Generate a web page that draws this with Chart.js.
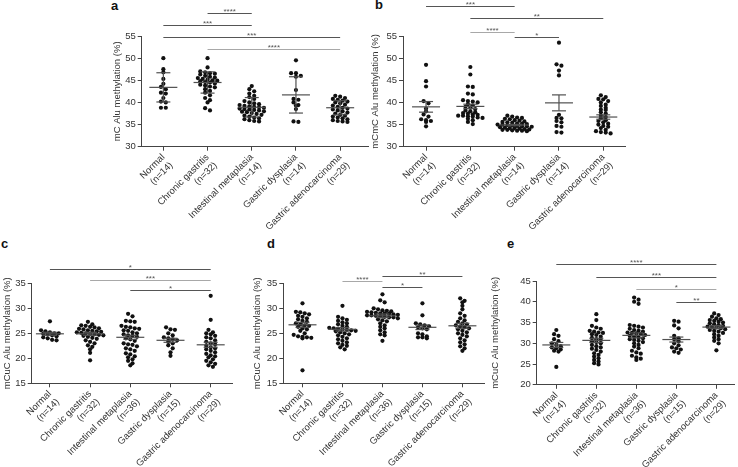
<!DOCTYPE html>
<html>
<head>
<meta charset="utf-8">
<script src="https://cdn.jsdelivr.net/npm/chart.js@4/dist/chart.umd.min.js"></script>
<style>
  body { margin: 0; background: #fff; }
  #fig { position: relative; width: 738px; height: 467px; overflow: hidden; }
  .tag { position: absolute; font: bold 13px "Liberation Sans", Arial, sans-serif; line-height: 13px; color: #111; }
</style>
</head>
<body>
<div id="fig">
  <div class="tag" style="left:111px;top:-1px">a</div>
  <div class="tag" style="left:375px;top:-2px">b</div>
  <div class="tag" style="left:1px;top:237px">c</div>
  <div class="tag" style="left:267px;top:237px">d</div>
  <div class="tag" style="left:507px;top:237px">e</div>
</div>
<script>
// category labels
const catsTop = [["Normal", "(n=14)"], ["Chronic gastritis", "(n=32)"], ["Intestinal metaplasia", "(n=14)"], ["Gastric dysplasia", "(n=14)"], ["Gastric adenocarcinoma", "(n=29)"]];
const catsBottom = [["Normal", "(n=14)"], ["Chronic gastritis", "(n=32)"], ["Intestinal metaplasia", "(n=36)"], ["Gastric dysplasia", "(n=15)"], ["Gastric adenocarcinoma", "(n=29)"]];

// a - mC
const aNormal = [50.0, 47.5, 46.8, 45.3, 44.2, 43.5, 43.0, 42.2, 42.0, 41.0, 40.2, 40.0, 38.8, 38.8];
const aChronic = [50.0, 47.9, 47.0, 46.8, 46.6, 46.5, 46.3, 46.0, 45.8, 45.6, 45.5, 45.3, 45.2, 45.0, 44.9, 44.8, 44.6, 44.5, 44.3, 44.0, 43.8, 43.6, 43.4, 43.0, 42.6, 42.2, 41.6, 41.0, 40.5, 40.0, 38.7, 38.2];
const aMetaplasia = [43.7, 43.0, 42.5, 42.0, 41.5, 41.2, 40.8, 40.3, 40.0, 39.8, 39.6, 39.4, 39.2, 39.0, 38.9, 38.8, 38.6, 38.5, 38.4, 38.2, 38.0, 37.8, 37.6, 37.4, 37.2, 37.0, 36.8, 36.6, 36.4, 36.2, 36.0, 35.8, 35.7, 37.9, 38.3, 39.1];
const aDysplasia = [49.5, 46.6, 46.6, 46.0, 45.8, 42.8, 40.8, 40.6, 40.0, 39.4, 39.3, 38.5, 35.7, 35.6];
const aCarcinoma = [41.5, 41.3, 41.0, 40.8, 40.6, 40.4, 40.2, 40.0, 39.8, 39.5, 39.3, 39.0, 38.8, 38.6, 38.4, 38.2, 38.0, 37.7, 37.5, 37.2, 37.0, 36.8, 36.6, 36.4, 36.2, 36.0, 35.8, 35.7, 35.6];
const aMean = [43.4, 44.5, 38.9, 41.7, 38.8];
const aErr = [3.3, 2.4, 2.2, 4.1, 1.6];
const aSig = [[2, 3, "****"], [1, 3, "***"], [1, 5, "***"], [2, 5, "****"]];

// b - mCmC
const bNormal = [48.5, 44.8, 43.6, 40.3, 39.8, 38.6, 38.0, 37.3, 36.8, 36.2, 36.0, 35.8, 35.6, 34.6];
const bChronic = [48.0, 46.3, 43.6, 43.5, 42.0, 41.8, 40.5, 40.3, 40.2, 40.0, 39.6, 39.3, 39.0, 38.8, 38.5, 38.2, 38.0, 37.8, 37.6, 37.5, 37.3, 37.2, 37.0, 37.0, 36.9, 36.8, 36.6, 36.5, 36.3, 36.0, 35.6, 35.1];
const bMetaplasia = [37.0, 36.8, 36.6, 36.5, 36.3, 36.2, 36.0, 35.9, 35.7, 35.6, 35.5, 35.4, 35.3, 35.2, 35.1, 35.0, 34.9, 34.8, 34.7, 34.6, 34.5, 34.4, 34.3, 34.2, 34.1, 34.0, 33.9, 33.8, 33.8, 33.7, 33.6, 33.6, 33.5, 35.0, 34.6, 34.2];
const bDysplasia = [53.5, 48.6, 48.3, 47.2, 46.1, 37.2, 36.5, 36.4, 35.8, 35.5, 34.7, 34.5, 33.3, 33.2];
const bCarcinoma = [41.6, 41.2, 40.8, 40.7, 40.3, 40.0, 39.5, 39.2, 38.8, 38.4, 38.3, 37.8, 37.5, 37.0, 36.7, 36.4, 36.0, 35.8, 35.5, 35.2, 35.0, 34.7, 34.5, 34.2, 33.8, 33.5, 33.3, 33.2, 33.0];
const bMean = [39.0, 39.1, 34.9, 39.9, 36.7];
const bErr = [1.2, 0.5, 0.15, 1.8, 0.5];
const bSig = [[1, 3, "***"], [2, 5, "**"], [2, 3, "****"], [3, 4, "*"]];

// c - mCuC
const cNormal = [27.4, 25.6, 25.4, 25.2, 25.0, 25.0, 24.9, 24.8, 24.6, 24.4, 24.2, 24.0, 23.7, 23.6];
const cChronic = [27.3, 26.8, 26.6, 26.5, 26.3, 26.2, 26.0, 25.9, 25.8, 25.6, 25.5, 25.4, 25.3, 25.2, 25.1, 25.0, 24.9, 24.8, 24.7, 24.6, 24.5, 24.3, 24.1, 23.9, 23.6, 23.3, 23.0, 22.6, 22.3, 21.8, 21.1, 19.6];
const cMetaplasia = [28.9, 28.4, 27.5, 27.4, 27.3, 26.5, 26.3, 26.2, 26.0, 25.9, 25.6, 25.5, 25.2, 25.0, 24.8, 24.6, 24.5, 24.3, 24.0, 23.8, 23.5, 23.0, 22.8, 22.7, 22.4, 22.0, 21.8, 21.5, 21.0, 20.8, 20.4, 20.2, 19.8, 19.5, 19.0, 18.6];
const cDysplasia = [26.2, 25.8, 25.7, 25.0, 24.6, 24.2, 24.0, 23.8, 23.6, 23.3, 23.0, 22.6, 22.0, 21.2, 20.5];
const cCarcinoma = [32.5, 27.7, 25.7, 25.2, 25.0, 24.8, 24.5, 24.2, 24.0, 23.6, 23.3, 23.0, 22.8, 22.5, 22.2, 22.0, 21.8, 21.5, 21.2, 20.9, 20.6, 20.4, 20.2, 19.8, 19.5, 19.2, 18.9, 18.6, 18.3];
const cMean = [24.9, 24.9, 24.2, 23.6, 22.7];
const cErr = [0.3, 0.3, 0.4, 0.4, 0.5];
const cSig = [[1, 5, "*"], [2, 5, "***"], [3, 5, "*"]];

// d - mCuC
const dNormal = [31.0, 29.3, 29.2, 29.0, 28.8, 28.5, 28.3, 28.0, 27.8, 27.5, 27.3, 27.0, 26.8, 26.6, 26.5, 26.3, 26.0, 25.8, 25.5, 25.0, 24.7, 24.4, 24.3, 24.2, 24.1, 24.0, 17.6];
const dChronic = [30.5, 28.3, 28.0, 27.7, 27.5, 27.2, 27.0, 26.8, 26.5, 26.3, 26.1, 26.0, 25.9, 25.8, 25.7, 25.6, 25.5, 25.4, 25.2, 25.0, 24.8, 24.6, 24.3, 24.0, 23.8, 23.5, 23.2, 23.0, 22.7, 22.5, 22.2, 21.8];
const dMetaplasia = [32.8, 31.6, 31.2, 30.0, 29.8, 29.6, 29.5, 29.4, 29.3, 29.2, 29.1, 29.0, 29.0, 28.9, 28.8, 28.7, 28.6, 28.6, 28.5, 28.4, 28.3, 28.2, 28.2, 28.0, 27.8, 27.6, 27.4, 27.0, 26.6, 26.3, 26.0, 25.6, 25.2, 24.8, 24.6, 23.5];
const dDysplasia = [31.0, 28.6, 27.0, 26.8, 26.6, 26.4, 26.2, 26.0, 25.8, 25.0, 24.8, 24.4, 24.2, 24.2, 24.0];
const dCarcinoma = [32.0, 31.5, 31.2, 30.5, 29.8, 29.0, 28.5, 28.0, 27.6, 27.3, 27.0, 26.8, 26.6, 26.4, 26.2, 26.0, 25.8, 25.5, 25.2, 25.0, 24.7, 24.4, 24.0, 23.6, 23.2, 22.8, 22.4, 22.0, 21.5];
const dMean = [26.7, 25.8, 28.5, 26.2, 26.5];
const dErr = [0.5, 0.35, 0.35, 0.45, 0.5];
const dSig = [[2, 3, "****"], [3, 5, "**"], [3, 4, "*"]];

// e - mCuC
const eNormal = [33.2, 32.2, 31.8, 31.0, 30.5, 30.0, 29.6, 29.3, 29.0, 28.8, 28.5, 28.2, 28.0, 24.3];
const eChronic = [37.0, 35.6, 34.2, 33.8, 33.5, 33.0, 32.8, 32.6, 32.5, 32.2, 32.0, 31.6, 31.3, 31.0, 30.8, 30.5, 30.3, 30.0, 29.6, 29.3, 29.0, 28.7, 28.4, 28.0, 27.6, 27.2, 26.8, 26.4, 26.0, 25.6, 25.2, 24.9];
const eMetaplasia = [41.0, 40.5, 40.0, 39.5, 34.4, 34.2, 34.0, 33.8, 33.5, 33.2, 33.0, 32.8, 32.6, 32.5, 32.4, 32.2, 32.0, 31.8, 31.6, 31.4, 31.2, 31.0, 30.8, 30.6, 30.3, 30.0, 29.6, 29.2, 28.8, 28.2, 27.8, 27.5, 27.0, 26.6, 26.3, 26.0];
const eDysplasia = [35.4, 35.2, 34.3, 33.6, 31.8, 31.2, 31.0, 30.5, 30.0, 29.5, 29.0, 28.8, 28.5, 28.0, 27.7];
const eCarcinoma = [37.2, 36.8, 36.4, 36.0, 35.8, 35.6, 35.4, 35.2, 35.0, 34.8, 34.6, 34.4, 34.2, 34.0, 33.9, 33.8, 33.6, 33.4, 33.2, 33.0, 32.8, 32.5, 32.2, 31.8, 31.4, 31.0, 30.6, 30.0, 28.3];
const eMean = [29.6, 30.7, 31.9, 30.9, 33.9];
const eErr = [0.6, 0.5, 0.6, 0.6, 0.35];
const eSig = [[1, 5, "****"], [2, 5, "***"], [3, 5, "*"], [4, 5, "**"]];

Chart.defaults.font.family = "'Liberation Sans', Arial, sans-serif";

const DARK = "#555";
const LIGHT = "#a8a8a8";

// box: canvas [left, top, w, h]; area: plot [left, top, right, bottom] in page px
const panels = [
  { title: "mC Alu methylation (%)", cats: catsTop, groups: [aNormal, aChronic, aMetaplasia, aDysplasia, aCarcinoma],
    mean: aMean, err: aErr, sig: aSig, levels: [60.2, 57.5, 54.8, 52.1], shades: [DARK, DARK, DARK, LIGHT],
    yr: [30, 55], xr: [0.51, 5.63], box: [110, 0, 262, 250], area: [141.7, 36, 368, 146.7], bin: 0.7, step: 0.11 },
  { title: "mCmC Alu methylation (%)", cats: catsTop, groups: [bNormal, bChronic, bMetaplasia, bDysplasia, bCarcinoma],
    mean: bMean, err: bErr, sig: bSig, levels: [61.8, 59.1, 56.0, 54.7], shades: [DARK, DARK, LIGHT, DARK],
    yr: [30, 55], xr: [0.48, 5.49], box: [368, 0, 262, 250], area: [403, 36, 625, 146.7], bin: 0.6, step: 0.11 },
  { title: "mCuC Alu methylation (%)", cats: catsBottom, groups: [cNormal, cChronic, cMetaplasia, cDysplasia, cCarcinoma],
    mean: cMean, err: cErr, sig: cSig, levels: [37.9, 35.7, 33.7], shades: [DARK, LIGHT, DARK],
    yr: [15, 35], xr: [0.547, 5.53], box: [0, 250, 236, 217], area: [31.7, 283.3, 233, 383.3], bin: 0.65, step: 0.11 },
  { title: "mCuC Alu methylation (%)", cats: catsBottom, groups: [dNormal, dChronic, dMetaplasia, dDysplasia, dCarcinoma],
    mean: dMean, err: dErr, sig: dSig, levels: [35.5, 36.5, 34.3], shades: [LIGHT, DARK, DARK],
    yr: [15, 35], xr: [0.52, 5.54], box: [250, 250, 238, 217], area: [283.3, 283.3, 486, 383.3], bin: 0.65, step: 0.11 },
  { title: "mCuC Alu methylation (%)", cats: catsBottom, groups: [eNormal, eChronic, eMetaplasia, eDysplasia, eCarcinoma],
    mean: eMean, err: eErr, sig: eSig, levels: [49.1, 46.0, 43.1, 40.0], shades: [DARK, DARK, LIGHT, DARK],
    yr: [20, 45], xr: [0.51, 5.44], box: [488, 250, 250, 217], area: [536.7, 281, 738, 384.8], bin: 0.75, step: 0.11 },
];

const MAX_ROW = 8;

// spread each group's points sideways in rows, like a dot plot
function swarm(groups, bin, step) {
  const pts = [];
  groups.forEach((vals, g) => {
    const sorted = [...vals].sort((p, q) => q - p);
    let row = [];
    const flush = () => {
      row.forEach((v, j) => pts.push({ x: g + 1 + (j - (row.length - 1) / 2) * step, y: v }));
      row = [];
    };
    sorted.forEach(v => {
      if (row.length && (row[0] - v > bin || row.length >= MAX_ROW)) flush();
      row.push(v);
    });
    flush();
  });
  return pts;
}

// mean +/- error bars and significance brackets
const marks = {
  id: "marks",
  afterDatasetsDraw(chart, args, opts) {
    const { ctx, scales: { x, y } } = chart;
    const seg = (x1, y1, x2, y2) => { ctx.beginPath(); ctx.moveTo(x1, y1); ctx.lineTo(x2, y2); ctx.stroke(); };
    ctx.save();
    ctx.strokeStyle = "#505050";
    ctx.lineWidth = 1.2;
    opts.mean.forEach((m, i) => {
      const cx = x.getPixelForValue(i + 1);
      const my = y.getPixelForValue(m);
      const ty = y.getPixelForValue(m + opts.err[i]);
      const by = y.getPixelForValue(m - opts.err[i]);
      seg(cx - 14, my, cx + 14, my);
      seg(cx, ty, cx, by);
      seg(cx - 7, ty, cx + 7, ty);
      seg(cx - 7, by, cx + 7, by);
    });
    ctx.font = "8px 'Liberation Sans', Arial, sans-serif";
    ctx.textAlign = "center";
    ctx.textBaseline = "alphabetic";
    opts.sig.forEach(([from, to, label], i) => {
      const ly = Math.round(y.getPixelForValue(opts.levels[i])) + 0.5;
      const x1 = x.getPixelForValue(from);
      const x2 = x.getPixelForValue(to);
      ctx.strokeStyle = opts.shades[i];
      ctx.lineWidth = 1;
      seg(x1, ly, x2, ly);
      ctx.fillStyle = "#555";
      ctx.fillText(label, (x1 + x2) / 2, ly);
    });
    ctx.restore();
  }
};

function makeChart(p) {
  const [bl, bt, bw, bh] = p.box;
  const [al, at, ar, ab] = p.area;
  const canvas = document.createElement("canvas");
  canvas.width = bw;
  canvas.height = bh;
  canvas.style.cssText = `position:absolute;left:${bl}px;top:${bt}px;width:${bw}px;height:${bh}px`;
  document.getElementById("fig").appendChild(canvas);
  const axisGrid = { drawOnChartArea: false, tickLength: 4, color: "#444", lineWidth: 1 };
  return new Chart(canvas, {
    type: "scatter",
    data: {
      datasets: [{ data: swarm(p.groups, p.bin, p.step), pointRadius: 2.1, pointBackgroundColor: "#111", pointBorderWidth: 0 }]
    },
    options: {
      responsive: false,
      animation: false,
      layout: { padding: { top: at - bt, right: bl + bw - ar, bottom: 0, left: 0 } },
      plugins: {
        legend: { display: false },
        tooltip: { enabled: false },
        marks: { mean: p.mean, err: p.err, sig: p.sig, levels: p.levels, shades: p.shades }
      },
      scales: {
        x: {
          type: "linear", min: p.xr[0], max: p.xr[1],
          afterBuildTicks: s => { s.ticks = p.cats.map((c, i) => ({ value: i + 1 })); },
          afterFit: s => { s.height = bt + bh - ab; s.paddingLeft = 0; s.paddingRight = 0; },
          ticks: { autoSkip: false, minRotation: 45, maxRotation: 45, padding: 1, color: "#333", font: { size: 9.5 },
                   callback: (v, i) => p.cats[i] },
          grid: axisGrid,
          border: { color: "#444", width: 1 }
        },
        y: {
          type: "linear", min: p.yr[0], max: p.yr[1],
          afterFit: s => { s.width = al - bl; s.paddingTop = 0; s.paddingBottom = 0; },
          ticks: { stepSize: 5, padding: 2, color: "#333", font: { size: 9.5 } },
          grid: axisGrid,
          border: { color: "#444", width: 1 },
          title: { display: true, text: p.title, color: "#333", font: { size: 9.5 }, padding: { top: 2, bottom: 0 } }
        }
      }
    },
    plugins: [marks]
  });
}

panels.forEach(makeChart);
</script>
</body>
</html>
